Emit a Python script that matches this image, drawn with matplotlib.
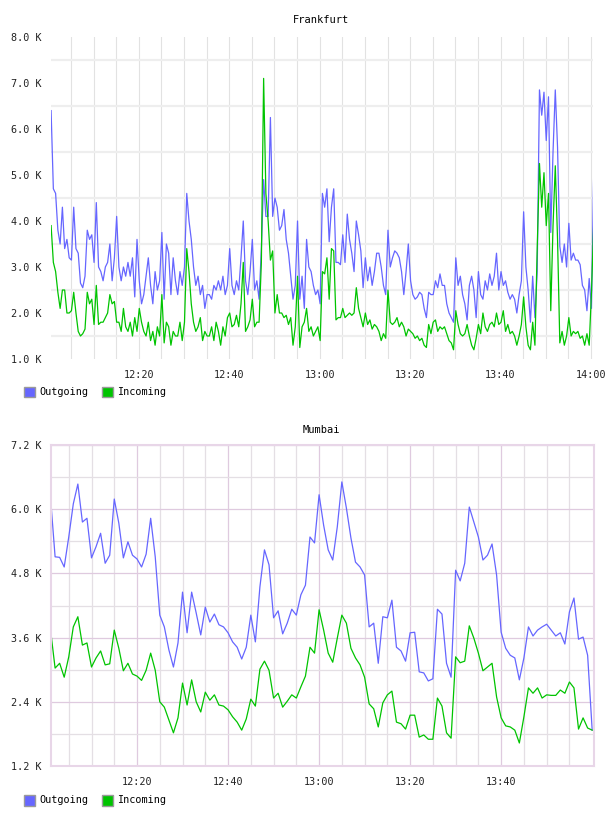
import numpy as np
import matplotlib
matplotlib.use('Agg')
import matplotlib.pyplot as plt
from matplotlib.patches import Rectangle

# Frankfurt: one sample per 30 s starting 12:00:36, values in K
fra_out = [6.4, 4.7, 4.6, 3.8, 3.5, 4.3, 3.4, 3.6, 3.2, 3.15,
           4.3, 3.4, 3.3, 2.65, 2.55, 2.8, 3.8, 3.6, 3.7, 3.1,
           4.4, 3.0, 2.9, 2.7, 3.0, 3.1, 3.5, 2.7, 3.2, 4.1,
           3.0, 2.7, 3.0, 2.8, 3.1, 2.8, 3.2, 2.35, 3.6, 2.7,
           2.2, 2.4, 2.8, 3.2, 2.6, 2.2, 2.9, 2.5, 2.7, 3.75,
           2.3, 3.5, 3.3, 2.4, 3.2, 2.7, 2.4, 2.9, 2.6, 3.0,
           4.6, 4.0, 3.6, 3.0, 2.6, 2.8, 2.4, 2.6, 2.1, 2.4,
           2.4, 2.3, 2.6, 2.5, 2.7, 2.5, 2.8, 2.4, 2.6, 3.4,
           2.6, 2.4, 2.7, 2.5, 3.2, 4.0, 2.7, 2.4, 2.9, 3.6,
           2.5, 2.7, 2.3, 3.4, 4.9, 4.1, 4.1, 6.25, 4.1, 4.5,
           4.3, 3.8, 3.9, 4.25, 3.6, 3.3, 2.8, 2.3, 2.6, 4.0,
           2.3, 2.8, 2.1, 3.6, 3.0, 2.9, 2.6, 2.4, 2.5, 2.2,
           4.6, 4.3, 4.7, 3.55, 4.3, 4.7, 3.1, 3.1, 3.05, 3.7,
           3.1, 4.15, 3.6, 3.3, 2.9, 4.0, 3.7, 3.35, 2.55, 3.2,
           2.7, 3.0, 2.6, 2.9, 3.3, 3.3, 3.0, 2.6, 2.4, 3.8,
           3.0, 3.2, 3.35, 3.3, 3.2, 2.9, 2.4, 2.9, 3.5, 2.7,
           2.4, 2.3, 2.35, 2.45, 2.4, 2.1, 1.9, 2.45, 2.4, 2.4,
           2.7, 2.55, 2.85, 2.6, 2.6, 2.2, 2.0, 1.9, 1.8, 3.2,
           2.6, 2.8, 2.4, 2.2, 1.85, 2.6, 2.8, 2.5, 1.9, 2.9,
           2.4, 2.3, 2.7, 2.5, 2.85, 2.6, 2.8, 3.3, 2.5, 2.9,
           2.6, 2.7, 2.45, 2.3, 2.4, 2.3, 2.0, 2.4, 2.7, 4.2,
           3.0, 2.5, 1.8, 2.8, 1.9, 2.9, 6.85, 6.3, 6.8, 5.75,
           6.7, 3.75, 5.5, 6.85, 5.6, 3.45, 3.1, 3.5, 3.0, 3.95,
           3.15, 3.3, 3.15, 3.15, 3.05, 2.6, 2.5, 2.05, 2.75, 2.1, 5.05]
fra_in = [3.9, 3.1, 2.9, 2.45, 2.1, 2.5, 2.5, 2.0, 2.0, 2.05,
          2.45, 2.0, 1.6, 1.5, 1.55, 1.65, 2.45, 2.2, 2.3, 1.75,
          2.6, 1.75, 1.8, 1.8, 1.9, 2.0, 2.4, 2.2, 2.25, 1.8,
          1.8, 1.6, 2.1, 1.7, 1.6, 1.8, 1.5, 1.9, 1.6, 2.1,
          1.8, 1.6, 1.5, 1.8, 1.4, 1.6, 1.3, 1.7, 1.5, 2.4,
          1.35, 1.8, 1.7, 1.3, 1.6, 1.5, 1.5, 1.8, 1.4, 1.8,
          3.4, 2.9, 2.2, 1.8, 1.6, 1.7, 1.9, 1.4, 1.6, 1.5,
          1.5, 1.7, 1.4, 1.8, 1.6, 1.3, 1.7, 1.5, 1.9, 2.0,
          1.7, 1.75, 1.95, 1.7, 2.2, 3.1, 1.6, 1.7, 1.85, 2.3,
          1.7, 1.8, 1.8, 3.1, 7.1, 4.6, 4.0, 3.15, 3.35, 2.0,
          2.4, 2.0, 2.0, 1.9, 1.95, 1.75, 1.9, 1.3, 1.7, 2.8,
          1.25, 1.7, 1.8, 2.1, 1.6, 1.7, 1.5, 1.6, 1.7, 1.4,
          2.9, 2.85, 3.2, 2.3, 3.4, 3.35, 1.85, 1.9, 1.9, 2.1,
          1.9, 1.95, 2.0, 1.95, 2.0, 2.55, 2.1, 1.9, 1.7, 2.0,
          1.75, 1.85, 1.65, 1.75, 1.7, 1.6, 1.4, 1.55, 1.45, 2.5,
          1.8, 1.75, 1.8, 1.9, 1.7, 1.8, 1.7, 1.5, 1.65, 1.6,
          1.55, 1.45, 1.5, 1.4, 1.45, 1.3, 1.25, 1.75, 1.55, 1.8,
          1.85, 1.6, 1.7, 1.65, 1.7, 1.55, 1.4, 1.35, 1.2, 2.05,
          1.75, 1.55, 1.5, 1.55, 1.75, 1.5, 1.3, 1.2, 1.45, 1.75,
          1.55, 2.0, 1.7, 1.6, 1.75, 1.8, 1.7, 2.0, 1.75, 1.8,
          2.05, 1.6, 1.75, 1.55, 1.6, 1.5, 1.3, 1.5, 1.75, 2.35,
          1.7, 1.3, 1.2, 1.8, 1.3, 3.4, 5.25, 4.3, 5.05, 3.9,
          4.6, 2.05, 3.9, 5.2, 3.6, 1.35, 1.6, 1.3, 1.5, 1.9,
          1.5, 1.6, 1.55, 1.6, 1.45, 1.5, 1.3, 1.55, 1.3, 2.45, 3.95]

# Mumbai: one sample per minute starting 12:01, values in K
mum_out = [6.21, 5.11, 5.10, 4.92, 5.48, 6.10, 6.47, 5.76, 5.83, 5.09,
           5.30, 5.55, 4.99, 5.14, 6.19, 5.74, 5.09, 5.39, 5.14, 5.07,
           4.92, 5.16, 5.83, 5.11, 4.02, 3.80, 3.37, 3.05, 3.50, 4.45,
           3.69, 4.45, 4.06, 3.65, 4.17, 3.89, 4.04, 3.84, 3.80, 3.69,
           3.52, 3.42, 3.20, 3.42, 4.02, 3.52, 4.55, 5.24, 4.96, 3.97,
           4.10, 3.67, 3.87, 4.13, 4.02, 4.40, 4.58, 5.48, 5.37, 6.27,
           5.70, 5.24, 5.05, 5.67, 6.51, 6.02, 5.46, 5.01, 4.92, 4.77,
           3.80, 3.87, 3.12, 3.99, 3.97, 4.30, 3.42, 3.35, 3.16, 3.69,
           3.70, 2.96, 2.94, 2.79, 2.83, 4.13, 4.04, 3.12, 2.86, 4.86,
           4.66, 4.99, 6.04, 5.76, 5.48, 5.05, 5.14, 5.35, 4.77, 3.70,
           3.40, 3.27, 3.22, 2.81, 3.22, 3.80, 3.63, 3.74, 3.80, 3.85,
           3.74, 3.63, 3.69, 3.48, 4.08, 4.34, 3.57, 3.61, 3.27, 1.87]
mum_in = [3.74, 3.03, 3.12, 2.86, 3.24, 3.80, 3.99, 3.46, 3.50, 3.05,
          3.22, 3.35, 3.09, 3.11, 3.74, 3.40, 2.98, 3.12, 2.92, 2.88,
          2.80, 2.99, 3.31, 2.99, 2.40, 2.30, 2.06, 1.82, 2.10, 2.75,
          2.34, 2.81, 2.40, 2.21, 2.58, 2.43, 2.53, 2.34, 2.32, 2.25,
          2.12, 2.02, 1.87, 2.08, 2.45, 2.32, 3.01, 3.16, 2.99, 2.47,
          2.56, 2.30, 2.41, 2.53, 2.47, 2.68, 2.88, 3.42, 3.31, 4.12,
          3.74, 3.31, 3.14, 3.59, 4.02, 3.87, 3.40, 3.22, 3.09, 2.86,
          2.36, 2.27, 1.93, 2.38, 2.53, 2.60, 2.02, 1.99, 1.89, 2.15,
          2.15, 1.74, 1.78, 1.70, 1.70, 2.47, 2.32, 1.82, 1.72, 3.24,
          3.13, 3.16, 3.82, 3.59, 3.31, 2.98, 3.05, 3.12, 2.49, 2.10,
          1.95, 1.93, 1.87, 1.63, 2.12, 2.66, 2.56, 2.66, 2.47, 2.53,
          2.52, 2.52, 2.62, 2.56, 2.77, 2.66, 1.89, 2.10, 1.91, 1.87]

x_ticks = [20, 40, 60, 80, 100, 120]   # minutes after 12:00
x_labels = ['12:20', '12:40', '13:00', '13:20', '13:40', '14:00']
fra_yticks = [1.0, 2.0, 3.0, 4.0, 5.0, 6.0, 7.0, 8.0]
mum_yticks = [1.2, 2.4, 3.6, 4.8, 6.0, 7.2]

BLUE = '#6666ff'
GREEN = '#00c400'
W, H = 608, 816

plt.rcParams['font.family'] = ['DejaVu Sans Mono']

fra_t = 0.6 + 0.5 * np.arange(len(fra_out))
mum_t = 1.0 + np.arange(len(mum_out))

fig = plt.figure(figsize=(W / 100, H / 100), dpi=100)
ax1 = fig.add_axes([51 / W, 1 - 359 / H, 542 / W, 322 / H])
ax2 = fig.add_axes([51 / W, 1 - 766 / H, 543 / W, 321 / H])

def legend(yc):
    # little boxes + text under each chart
    for x0, col, txt in [(24, BLUE, 'Outgoing'), (102, GREEN, 'Incoming')]:
        fig.add_artist(Rectangle((x0 / W, 1 - (yc + 5.5) / H), 11 / W, 11 / H,
                                 transform=fig.transFigure, facecolor=col,
                                 edgecolor='#9a9a9a', lw=1))
        fig.text((x0 + 15) / W, 1 - yc / H, txt, fontsize=7.3, va='center', ha='left')

# --- Frankfurt ---
ax1.plot(fra_t, fra_out, color=BLUE, lw=0.9)
ax1.plot(fra_t, fra_in, color=GREEN, lw=0.9)
ax1.set_xlim(0.58, 120.44)
ax1.set_ylim(1, 8)
ax1.set_yticks(fra_yticks)
ax1.set_yticklabels(['%.1f K' % v for v in fra_yticks])
ax1.set_yticks(np.arange(1.5, 8, 1), minor=True)
ax1.set_xticks(x_ticks)
ax1.set_xticklabels(x_labels)
ax1.set_xticks(np.arange(5, 121, 5), minor=True)
ax1.grid(axis='y', which='minor', color='#eeeeee', lw=1.6)
ax1.grid(axis='x', which='both', color='#e2e2e2', lw=0.8)
for s in ax1.spines.values():
    s.set_visible(False)
ax1.set_axisbelow(True)
fig.text(321 / W, 1 - 20 / H, 'Frankfurt', fontsize=7.5, ha='center', va='center')
legend(392)

# --- Mumbai ---
ax2.plot(mum_t, mum_out, color=BLUE, lw=0.9)
ax2.plot(mum_t, mum_in, color=GREEN, lw=0.9)
ax2.set_xlim(1.1, 120.4)
ax2.set_ylim(1.2, 7.2)
ax2.set_yticks(mum_yticks)
ax2.set_yticklabels(['%.1f K' % v for v in mum_yticks])
ax2.set_yticks(np.arange(1.8, 7.0, 1.2), minor=True)
ax2.set_xticks(x_ticks[:-1])
ax2.set_xticklabels(x_labels[:-1])
ax2.set_xticks(np.arange(5, 120, 5), minor=True)
ax2.grid(which='major', color='#dfcadf', lw=0.9)
ax2.grid(which='minor', color='#e4dfe4', lw=0.9)
for s in ax2.spines.values():
    s.set_color('#e8d6e8')
    s.set_linewidth(1.5)
ax2.set_axisbelow(True)
fig.text(321 / W, 1 - 430 / H, 'Mumbai', fontsize=7.5, ha='center', va='center')
legend(800)

for ax in (ax1, ax2):
    ax.tick_params(which='both', length=0, labelsize=7.3, colors='#222222')
    ax.tick_params(axis='y', pad=7)
    ax.tick_params(axis='x', pad=8)

fig.savefig('out.png', dpi=100)
